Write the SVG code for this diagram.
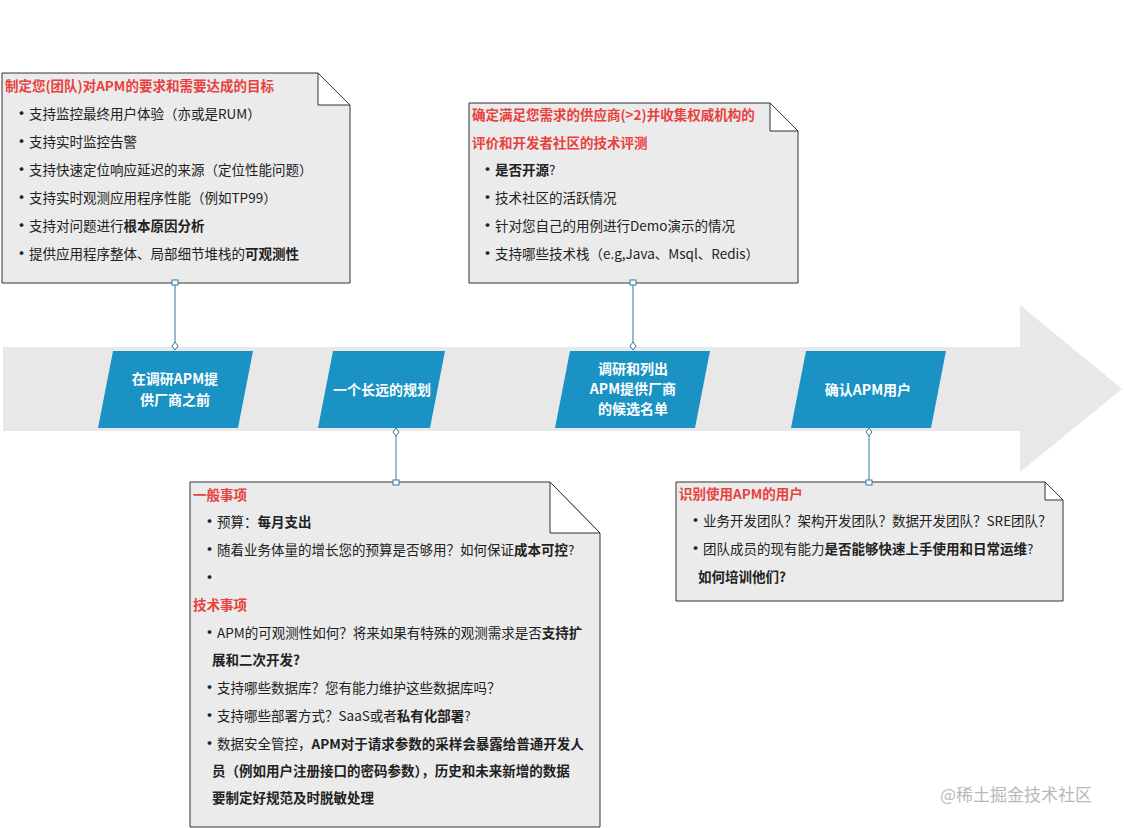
<svg xmlns="http://www.w3.org/2000/svg" width="1124" height="828" viewBox="0 0 1124 828">
<style>
text{font-family:"Noto Sans CJK SC","Liberation Sans",sans-serif;font-size:13.5px;fill:#222}
.t{fill:#e8413e;font-weight:bold}
.b{font-weight:bold}
.u{font-weight:bold;font-size:15px}
.w{fill:#fff;font-weight:bold;font-size:14px;text-anchor:middle}
.note{fill:#ebebeb;stroke:#333;stroke-width:1}
.fold{fill:#fff;stroke:#333;stroke-width:1}
.para{fill:#1a93c4}
.c{stroke:#2a7fa0;stroke-width:1;fill:none}
.cm{fill:#fff;stroke:#2a7fa0;stroke-width:1}
</style>
<rect width="1124" height="828" fill="#fff"/>
<g id="arrow"><polygon points="3,347 1020,347 1020,305 1122,389 1020,472 1020,431 3,431" fill="#e8e8e8"/></g>
<g id="s1"><polygon class="para" points="113,351 253,351 238,428 98,428"/><text class="w" x="175" y="384">在调研APM提</text><text class="w" x="175" y="405">供厂商之前</text></g>
<g id="s2"><polygon class="para" points="333,351 445,351 430,428 318,428"/><text class="w" x="382" y="395">一个长远的规划</text></g>
<g id="s3"><polygon class="para" points="570,351 710,351 695,428 555,428"/><text class="w" x="633" y="374">调研和列出</text><text class="w" x="633" y="394">APM提供厂商</text><text class="w" x="633" y="414">的候选名单</text></g>
<g id="s4"><polygon class="para" points="806,351 946,351 931,428 791,428"/><text class="w" x="868" y="395">确认APM用户</text></g>
<g id="n1"><polygon class="note" points="2,73 318,73 350,105 350,283 2,283"/><polygon class="fold" points="318,73 350,105 318,105"/>
<text class="t" x="5" y="91">制定您(团队)对APM的要求和需要达成的目标</text>
<text x="14" y="119"><tspan class="u">•</tspan>支持监控最终用户体验（亦或是RUM）</text>
<text x="14" y="147"><tspan class="u">•</tspan>支持实时监控告警</text>
<text x="14" y="175"><tspan class="u">•</tspan>支持快速定位响应延迟的来源（定位性能问题）</text>
<text x="14" y="203"><tspan class="u">•</tspan>支持实时观测应用程序性能（例如TP99）</text>
<text x="14" y="231"><tspan class="u">•</tspan>支持对问题进行<tspan class="b">根本原因分析</tspan></text>
<text x="14" y="259"><tspan class="u">•</tspan>提供应用程序整体、局部细节堆栈的<tspan class="b">可观测性</tspan></text></g>
<g id="n2"><polygon class="note" points="469,103 770,103 798,131 798,283 469,283"/><polygon class="fold" points="770,103 798,131 770,131"/>
<text class="t" x="472" y="120">确定满足您需求的供应商(&gt;2)并收集权威机构的</text>
<text class="t" x="472" y="148">评价和开发者社区的技术评测</text>
<text x="480" y="175"><tspan class="u">•</tspan><tspan class="b">是否开源</tspan>?</text>
<text x="480" y="203"><tspan class="u">•</tspan>技术社区的活跃情况</text>
<text x="480" y="231"><tspan class="u">•</tspan>针对您自己的用例进行Demo演示的情况</text>
<text x="480" y="259"><tspan class="u">•</tspan>支持哪些技术栈（e.g,Java、Msql、Redis）</text></g>
<g id="n3"><polygon class="note" points="190,482 550,482 600,533 600,827 190,827"/><polygon class="fold" points="550,482 600,533 550,533"/>
<text class="t" x="193" y="500">一般事项</text>
<text x="202" y="527"><tspan class="u">•</tspan>预算：<tspan class="b">每月支出</tspan></text>
<text x="202" y="555"><tspan class="u">•</tspan>随着业务体量的增长您的预算是否够用？如何保证<tspan class="b">成本可控</tspan>?</text>
<text x="202" y="583"><tspan class="u">•</tspan></text>
<text class="t" x="193" y="610">技术事项</text>
<text x="202" y="638"><tspan class="u">•</tspan>APM的可观测性如何？将来如果有特殊的观测需求是否<tspan class="b">支持扩</tspan></text>
<text class="b" x="212" y="665">展和二次开发?</text>
<text x="202" y="693"><tspan class="u">•</tspan>支持哪些数据库？您有能力维护这些数据库吗？</text>
<text x="202" y="721"><tspan class="u">•</tspan>支持哪些部署方式？SaaS或者<tspan class="b">私有化部署</tspan>?</text>
<text x="202" y="749"><tspan class="u">•</tspan>数据安全管控，<tspan class="b">APM对于请求参数的采样会暴露给普通开发人</tspan></text>
<text class="b" x="212" y="776">员（例如用户注册接口的密码参数），历史和未来新增的数据</text>
<text class="b" x="212" y="803">要制定好规范及时脱敏处理</text></g>
<g id="n4"><polygon class="note" points="676,482 1045,482 1063,500 1063,601 676,601"/><polygon class="fold" points="1045,482 1063,500 1045,500"/>
<text class="t" x="679" y="499">识别使用APM的用户</text>
<text x="688" y="526"><tspan class="u">•</tspan>业务开发团队？架构开发团队？数据开发团队？SRE团队？</text>
<text x="688" y="554"><tspan class="u">•</tspan>团队成员的现有能力<tspan class="b">是否能够快速上手使用和日常运维</tspan>?</text>
<text class="b" x="698" y="582">如何培训他们?</text></g>
<g id="connectors">
<path class="c" d="M175,283V347M633,283V347M396,431V482M869,431V482"/>
<rect class="cm" x="172" y="280" width="6" height="5"/><path class="cm" d="M175,342l3,4l-3,4l-3,-4z"/>
<rect class="cm" x="630" y="280" width="6" height="5"/><path class="cm" d="M633,342l3,4l-3,4l-3,-4z"/>
<rect class="cm" x="393" y="480" width="6" height="5"/><path class="cm" d="M396,428l3,4l-3,4l-3,-4z"/>
<rect class="cm" x="866" y="480" width="6" height="5"/><path class="cm" d="M869,428l3,4l-3,4l-3,-4z"/>
</g>
<text x="940" y="801" style="fill:#b8b8b8;font-size:17px">@稀土掘金技术社区</text>
</svg>
